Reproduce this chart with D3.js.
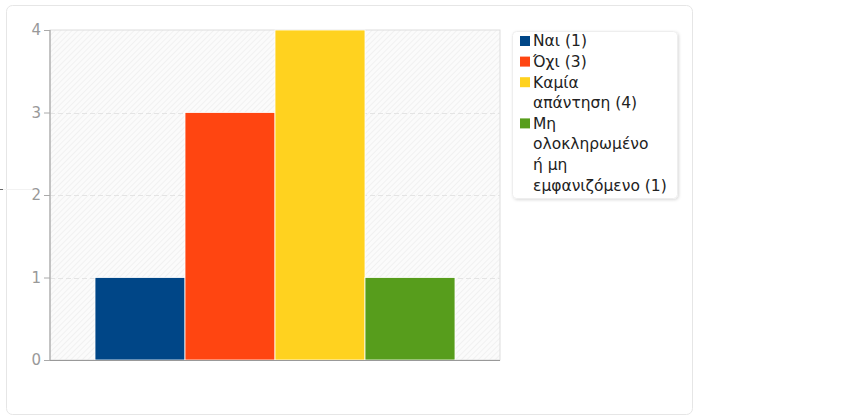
<!DOCTYPE html>
<html>
<head>
<meta charset="utf-8">
<script src="https://cdn.jsdelivr.net/npm/d3@7"></script>
<style>
	body { margin: 0; background: #fff; font-family: "DejaVu Sans", sans-serif; }
</style>
</head>
<body>
<div id="chart"></div>
<script>
	// chart values
	var categories = ["Ναι", "Όχι", "Καμία απάντηση", "Μη ολοκληρωμένο ή μη εμφανιζόμενο"];
	var values = [1, 3, 4, 1];
	var colors = ["#004687", "#ff4511", "#ffd21f", "#579d1c"];
	var legendLines = [
		["Ναι (1)"],
		["Όχι (3)"],
		["Καμία", "απάντηση (4)"],
		["Μη", "ολοκληρωμένο", "ή μη", "εμφανιζόμενο (1)"]
	];
	var yTicks = [0, 1, 2, 3, 4];

	var dims = {
		width: 857,
		height: 420,
		plot: { left: 50, right: 500, top: 30, bottom: 360 }
	};

	var svg = d3.select("#chart")
		.append("svg")
		.attr("width", dims.width)
		.attr("height", dims.height);

	var defs = svg.append("defs");

	// diagonal hatch for the plot background
	var pat = defs.append("pattern")
		.attr("id", "hatch")
		.attr("patternUnits", "userSpaceOnUse")
		.attr("width", 4)
		.attr("height", 4)
		.attr("patternTransform", "rotate(45)");
	pat.append("rect").attr("width", 4).attr("height", 4).attr("fill", "#fbfbfb");
	pat.append("line")
		.attr("x1", 0).attr("y1", 0).attr("x2", 0).attr("y2", 4)
		.attr("stroke", "#eeeeee").attr("stroke-width", 1.5);

	var shadow = defs.append("filter").attr("id", "shadow")
		.attr("x", "-10%").attr("y", "-10%").attr("width", "130%").attr("height", "130%");
	shadow.append("feDropShadow")
		.attr("dx", 1).attr("dy", 1).attr("stdDeviation", 1.5)
		.attr("flood-color", "#000").attr("flood-opacity", 0.15);

	// outer card
	svg.append("rect")
		.attr("x", 6.5).attr("y", 5.5)
		.attr("width", 686).attr("height", 409)
		.attr("rx", 6)
		.attr("fill", "#fff")
		.attr("stroke", "#e6e6e6");

	// stray tick at the far left
	svg.append("line")
		.attr("x1", 0).attr("x2", 34).attr("y1", 189.5).attr("y2", 189.5)
		.attr("stroke", "#f2f2f2");
	svg.append("line")
		.attr("x1", 0).attr("x2", 3).attr("y1", 189.5).attr("y2", 189.5)
		.attr("stroke", "#666");

	var x = d3.scaleBand()
		.domain(categories)
		.range([dims.plot.left, dims.plot.right])
		.paddingInner(0)
		.paddingOuter(0.5);

	var y = d3.scaleLinear()
		.domain([0, 4])
		.range([dims.plot.bottom, dims.plot.top]);

	// plot background
	svg.append("rect")
		.attr("x", dims.plot.left)
		.attr("y", dims.plot.top)
		.attr("width", dims.plot.right - dims.plot.left)
		.attr("height", dims.plot.bottom - dims.plot.top)
		.attr("fill", "url(#hatch)")
		.attr("stroke", "#dddddd");

	// grid lines
	svg.append("g")
		.selectAll("line")
		.data(yTicks.filter(function(d) { return d > 0 && d < 4; }))
		.enter()
		.append("line")
		.attr("x1", dims.plot.left)
		.attr("x2", dims.plot.right)
		.attr("y1", function(d) { return Math.round(y(d)) + 0.5; })
		.attr("y2", function(d) { return Math.round(y(d)) + 0.5; })
		.attr("stroke", "#e4e4e4")
		.attr("stroke-dasharray", "5,3");

	// bars
	svg.append("g")
		.selectAll("rect")
		.data(values)
		.enter()
		.append("rect")
		.attr("x", function(d, i) { return x(categories[i]); })
		.attr("y", function(d) { return y(d); })
		.attr("width", x.bandwidth())
		.attr("height", function(d) { return y(0) - y(d); })
		.attr("fill", function(d, i) { return colors[i]; })
		.attr("stroke", "#fff")
		.attr("stroke-width", 0.8);

	// y axis
	var yAxis = svg.append("g")
		.attr("transform", "translate(" + dims.plot.left + ",0)")
		.call(d3.axisLeft(y).tickValues(yTicks).tickSize(6).tickPadding(3).tickFormat(d3.format("d")));
	yAxis.select(".domain").attr("stroke", "#999").attr("d", "M0," + dims.plot.top + "V" + dims.plot.bottom);
	yAxis.selectAll(".tick line").attr("stroke", "#aaa");
	yAxis.selectAll(".tick text")
		.attr("fill", "#999")
		.style("font-size", "15px")
		.style("font-family", "DejaVu Sans, sans-serif");

	// x axis baseline
	svg.append("line")
		.attr("x1", dims.plot.left).attr("x2", dims.plot.right)
		.attr("y1", dims.plot.bottom + 0.5).attr("y2", dims.plot.bottom + 0.5)
		.attr("stroke", "#999");

	// legend
	var legend = svg.append("g").attr("class", "legend");
	legend.append("rect")
		.attr("x", 512.5).attr("y", 31.5)
		.attr("width", 165).attr("height", 167)
		.attr("rx", 4)
		.attr("fill", "#fff")
		.attr("stroke", "#eeeeee")
		.attr("filter", "url(#shadow)");

	// every text line sits on the same pitch
	var lineGap = 20.6;
	var cy = 41;
	legendLines.forEach(function(lines, i) {
		legend.append("rect")
			.attr("x", 520).attr("y", cy - 5)
			.attr("width", 10).attr("height", 10)
			.attr("fill", colors[i]);
		lines.forEach(function(t, j) {
			legend.append("text")
				.attr("x", 533)
				.attr("y", cy + j * lineGap)
				.attr("dy", "0.35em")
				.attr("fill", "#222")
				.style("font-size", "15.5px")
				.text(t);
		});
		cy += lines.length * lineGap;
	});
</script>
</body>
</html>
